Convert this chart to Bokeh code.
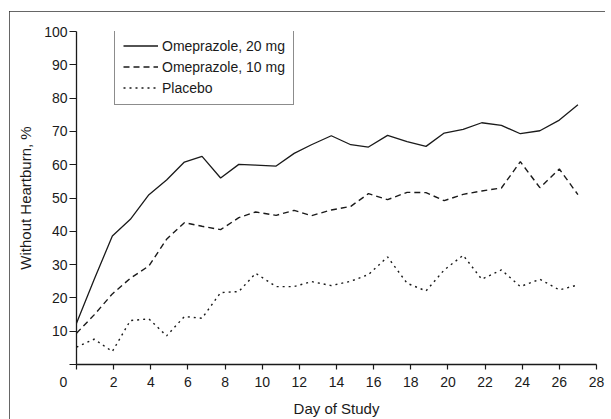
from bokeh.plotting import figure
from bokeh.models import FixedTicker, Range1d
from bokeh.embed import file_html
from bokeh.resources import INLINE

# ---- data ----
days = [0, 0.95, 1.93, 2.9, 3.9, 4.85, 5.81, 6.76, 7.76, 8.74, 9.65, 10.75, 11.72, 12.65,
        13.72, 14.77, 15.72, 16.75, 17.8, 18.82, 19.8, 20.82, 21.82, 22.88, 23.9, 24.95, 26.0, 27.0]
omep20 = [12.4, 25.5, 38.6, 43.6, 51.0, 55.4, 60.8, 62.5, 56.0, 60.1, 59.9, 59.6, 63.4, 66.0,
          68.7, 66.0, 65.3, 68.8, 66.9, 65.5, 69.5, 70.6, 72.6, 71.8, 69.3, 70.2, 73.4, 78.0]
omep10 = [9.4, 14.9, 21.2, 25.9, 29.6, 37.6, 42.6, 41.5, 40.5, 44.1, 45.8, 44.8, 46.3, 44.7,
          46.4, 47.5, 51.3, 49.5, 51.7, 51.6, 49.2, 51.1, 52.1, 53.0, 60.9, 53.1, 58.7, 51.0]
placebo = [5.2, 7.6, 3.9, 13.2, 13.7, 8.6, 14.4, 13.9, 21.6, 21.9, 27.4, 23.4, 23.4, 24.9,
           23.7, 25.0, 27.0, 32.3, 24.4, 22.1, 28.4, 32.8, 25.6, 28.4, 23.4, 25.6, 22.4, 23.9]
series_labels = ["Omeprazole, 20 mg", "Omeprazole, 10 mg", "Placebo"]
x_ticks = list(range(0, 29, 2))
y_ticks = list(range(0, 101, 10))
x_title = "Day of Study"
y_title = "Without Heartburn, %"

FONT = "'Liberation Sans', Arial, sans-serif"
INK = "#1a1a1a"

W, H = 596, 408
p = figure(width=W, height=H, output_backend="svg", toolbar_location=None,
           x_range=Range1d(0, 28), y_range=Range1d(0, 100),
           min_border_left=67, min_border_right=9, min_border_top=20, min_border_bottom=54)
p.margin = (11, 0, 0, 9)
p.styles = {"outline": "1px solid #333333", "outline-offset": "-1px"}
p.outline_line_color = None
p.grid.visible = False
p.background_fill_color = "white"
p.border_fill_color = "white"

p.line(days, omep20, line_color=INK, line_width=1.3, legend_label=series_labels[0])
p.line(days, omep10, line_color=INK, line_width=1.4, line_dash="6 4", legend_label=series_labels[1])
p.line(days, placebo, line_color=INK, line_width=1.4, line_dash="2 4", legend_label=series_labels[2])

for ax in (p.xaxis[0], p.yaxis[0]):
    ax.axis_line_color = INK
    ax.axis_line_width = 1.3
    ax.major_tick_line_color = INK
    ax.major_tick_line_width = 1.2
    ax.minor_tick_line_color = None
    ax.major_tick_in = 0
    ax.major_label_text_font = FONT
    ax.major_label_text_font_size = "14px"
    ax.major_label_text_color = INK
    ax.axis_label_text_font = FONT
    ax.axis_label_text_font_size = "15px"
    ax.axis_label_text_font_style = "normal"
    ax.axis_label_text_color = INK

p.xaxis[0].ticker = FixedTicker(ticks=x_ticks)
p.yaxis[0].ticker = FixedTicker(ticks=y_ticks)
# shared origin "0": shown once, left of the corner (figure spaces push it left)
p.xaxis[0].major_label_overrides = {0: "0\u2007\u2007\u2007\u2009"}
p.yaxis[0].major_label_overrides = {0: ""}
p.xaxis[0].major_tick_out = 5
p.yaxis[0].major_tick_out = 7
p.xaxis[0].major_label_standoff = 4
p.yaxis[0].major_label_standoff = 2
p.xaxis[0].axis_label = x_title
p.yaxis[0].axis_label = y_title
p.xaxis[0].axis_label_standoff = 7
p.yaxis[0].axis_label_standoff = 7

lg = p.legend[0]
lg.location = (38, 259)
lg.border_line_color = INK
lg.border_line_width = 1
lg.background_fill_alpha = 1
lg.padding = 8
lg.spacing = 4
lg.label_height = 17
lg.glyph_height = 17
lg.glyph_width = 35
lg.label_standoff = 4
lg.label_text_font = FONT
lg.label_text_font_size = "14px"
lg.label_text_color = INK
lg.margin = 0

open("out.html", "w").write(file_html(p, INLINE))
